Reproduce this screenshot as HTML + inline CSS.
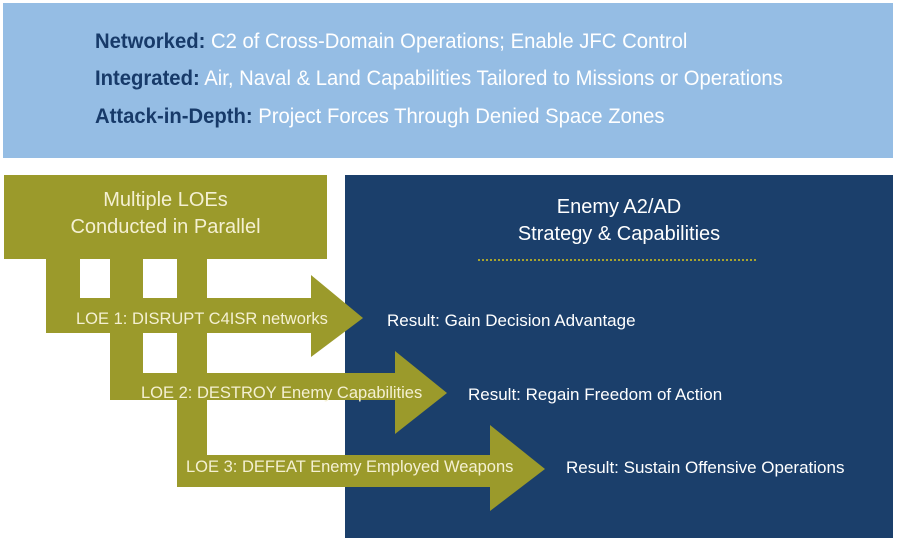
<!DOCTYPE html>
<html><head><style>
body{margin:0;width:897px;height:545px;background:#fff;overflow:hidden;position:relative;font-family:"Liberation Sans Narrow","Liberation Sans",sans-serif;}
.a{position:absolute;white-space:nowrap;}
.top{left:3px;top:3px;width:890px;height:155px;background:#95bde4;}
.tl{font-size:21px;color:#fff;left:95px;transform:scaleX(0.965);transform-origin:left center;}
.tl b{color:#173a69;}
.w{color:#f4f0d2;}
</style></head><body>
<div class="a top"></div>
<div class="a tl" style="top:30px"><b>Networked:</b> C2 of Cross-Domain Operations; Enable JFC Control</div>
<div class="a tl" style="top:67px"><b>Integrated:</b> Air, Naval &amp; Land Capabilities Tailored to Missions or Operations</div>
<div class="a tl" style="top:105px"><b>Attack-in-Depth:</b> Project Forces Through Denied Space Zones</div>
<div class="a" style="left:345px;top:175px;width:548px;height:363px;background:#1b3f6b"></div>
<svg class="a" style="left:0;top:0" width="897" height="545">
<g fill="#9b9a2b">
<rect x="4" y="175" width="323" height="84"/>
<rect x="46" y="258" width="34" height="75"/>
<rect x="110" y="258" width="33" height="142"/>
<rect x="177" y="258" width="30" height="229"/>
<rect x="46" y="298" width="266" height="35"/>
<polygon points="311,275 363,318 311,357"/>
<rect x="110" y="373" width="286" height="27"/>
<polygon points="395,351 447,393 395,434"/>
<rect x="177" y="455" width="314" height="32"/>
<polygon points="490,425 545,469 490,511"/>
</g>
<line x1="478" y1="260" x2="757" y2="260" stroke="#a8a42e" stroke-width="2" stroke-dasharray="2,2"/>
</svg>
<div class="a w" style="left:4px;width:323px;text-align:center;top:187px;font-size:20px;line-height:27px">Multiple LOEs<br>Conducted in Parallel</div>
<div class="a" style="left:345px;width:548px;text-align:center;top:194px;font-size:20px;line-height:27px;color:#fff">Enemy A2/AD<br>Strategy &amp; Capabilities</div>
<div class="a w" style="left:76px;top:310px;font-size:16.5px">LOE 1: DISRUPT C4ISR networks</div>
<div class="a w" style="left:141px;top:384px;font-size:16.5px">LOE 2: DESTROY Enemy Capabilities</div>
<div class="a w" style="left:186px;top:458px;font-size:16.5px">LOE 3: DEFEAT Enemy Employed Weapons</div>
<div class="a" style="left:387px;top:311px;font-size:17px;color:#fff">Result: Gain Decision Advantage</div>
<div class="a" style="left:468px;top:385px;font-size:17px;color:#fff">Result: Regain Freedom of Action</div>
<div class="a" style="left:566px;top:458px;font-size:17px;color:#fff">Result: Sustain Offensive Operations</div>
</body></html>
